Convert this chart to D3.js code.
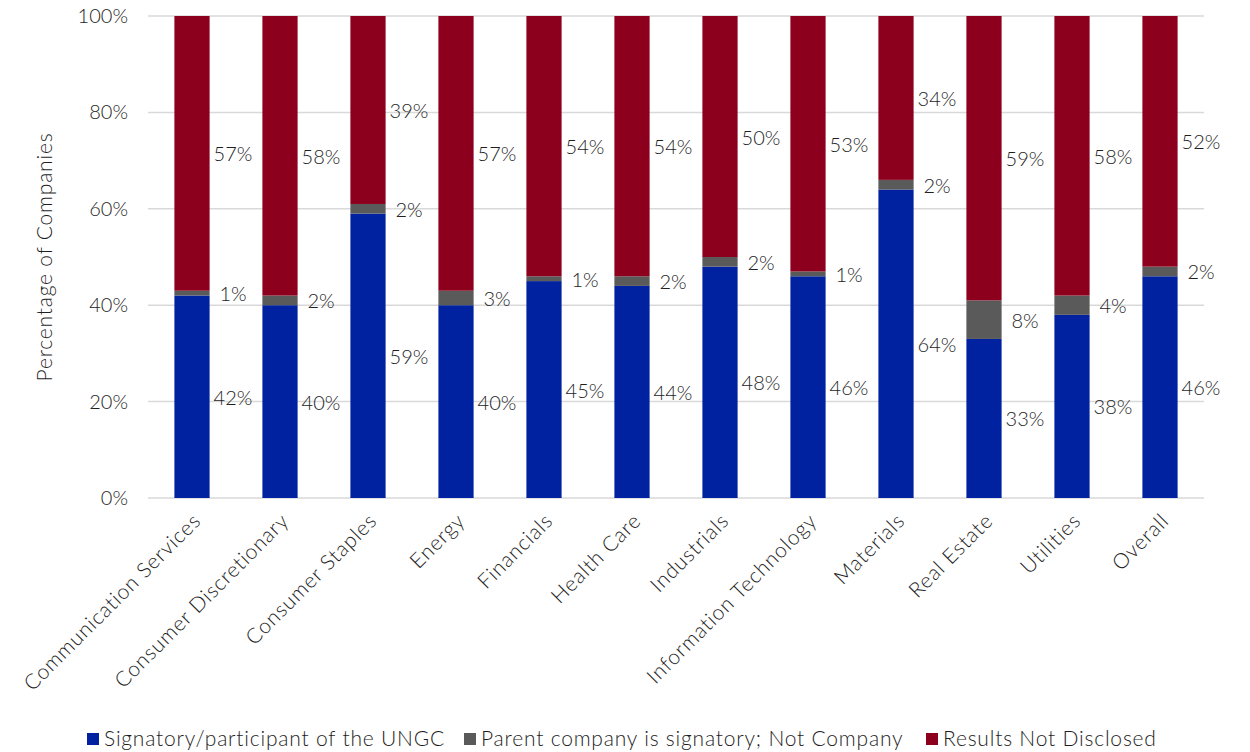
<!DOCTYPE html>
<html>
<head>
<meta charset="utf-8">
<script src="https://cdn.jsdelivr.net/npm/d3@7"></script>
<style>
  html, body { margin: 0; padding: 0; background: #fff; }
  svg text { font-family: Lato, "Open Sans", sans-serif; font-weight: 300; fill: #1e1e1e; }
  .word { letter-spacing: 0.8px; }
</style>
</head>
<body>
<svg id="chart" width="1250" height="752"></svg>
<script>
// Sector breakdown of UN Global Compact participation (percent of companies)
const categories = [
  "Communication Services", "Consumer Discretionary", "Consumer Staples", "Energy",
  "Financials", "Health Care", "Industrials", "Information Technology",
  "Materials", "Real Estate", "Utilities", "Overall"
];
const signatory    = [42, 40, 59, 40, 45, 44, 48, 46, 64, 33, 38, 46];
const parentSigned = [1, 2, 2, 3, 1, 2, 2, 1, 2, 8, 4, 2];
const notDisclosed = [57, 58, 39, 57, 54, 54, 50, 53, 34, 59, 58, 52];
const seriesNames  = ["Signatory/participant of the UNGC", "Parent company is signatory; Not Company", "Results Not Disclosed"];
const seriesColors = ["#0021A0", "#5A5A5A", "#8C001E"];
const yTicks = [0, 20, 40, 60, 80, 100];

const svg = d3.select("#chart");
const margin = { left: 148, right: 46, top: 16, bottom: 254 };
const W = 1250, H = 752;

const x = d3.scaleBand().domain(categories)
  .range([margin.left, W - margin.right]).paddingInner(0.6).paddingOuter(0.3);
const y = d3.scaleLinear().domain([0, 100]).range([H - margin.bottom, margin.top]);

// gridlines
svg.append("g").selectAll("line").data(yTicks).join("line")
  .attr("x1", margin.left).attr("x2", W - margin.right)
  .attr("y1", d => y(d)).attr("y2", d => y(d))
  .attr("stroke", "#d9d9d9").attr("stroke-width", 1.5);

// y tick labels
svg.append("g").selectAll("text").data(yTicks).join("text")
  .attr("x", 128).attr("y", d => y(d)).attr("dy", "0.35em")
  .attr("text-anchor", "end").style("font-size", "20px")
  .text(d => d + "%");

// y axis title
svg.append("text").attr("class", "word")
  .attr("transform", `translate(52,${(y(0) + y(100)) / 2}) rotate(-90)`)
  .attr("text-anchor", "middle").style("font-size", "21px")
  .text("Percentage of Companies");

// stacked data
const rows = categories.map((c, i) => ({ cat: c, s0: signatory[i], s1: parentSigned[i], s2: notDisclosed[i] }));
const stack = d3.stack().keys(["s0", "s1", "s2"])(rows);

const layers = svg.append("g").selectAll("g").data(stack).join("g")
  .attr("fill", (d, i) => seriesColors[i]);

layers.selectAll("rect").data(d => d).join("rect")
  .attr("x", d => x(d.data.cat))
  .attr("width", x.bandwidth())
  .attr("y", d => y(d[1]))
  .attr("height", d => y(d[0]) - y(d[1]));

// value labels beside each segment
const labels = svg.append("g");
stack.forEach(layer => {
  layer.forEach(d => {
    const v = d[1] - d[0];
    labels.append("text")
      .attr("x", x(d.data.cat) + x.bandwidth() / 2 + 41)
      .attr("y", y((d[0] + d[1]) / 2) + 1)
      .attr("dy", "0.35em")
      .attr("text-anchor", "middle")
      .style("font-size", "20px")
      .text(v + "%");
  });
});

// rotated category labels
svg.append("g").selectAll("text").data(categories).join("text").attr("class", "word")
  .attr("transform", d => `translate(${x(d) + x.bandwidth() / 2 + 5},${y(0) + 19}) rotate(-45)`)
  .attr("text-anchor", "end").attr("dy", "0.35em")
  .style("font-size", "21px")
  .text(d => d);

// legend
const legendX = [87, 464, 926];
const legend = svg.append("g").selectAll("g").data(seriesNames).join("g")
  .attr("transform", (d, i) => `translate(${legendX[i]},739)`);
legend.append("rect").attr("x", 0).attr("y", -6).attr("width", 12).attr("height", 12)
  .attr("fill", (d, i) => seriesColors[i]);
legend.append("text").attr("class", "word").attr("x", 17).attr("dy", "0.35em")
  .style("font-size", "21px").text(d => d);
</script>
</body>
</html>
